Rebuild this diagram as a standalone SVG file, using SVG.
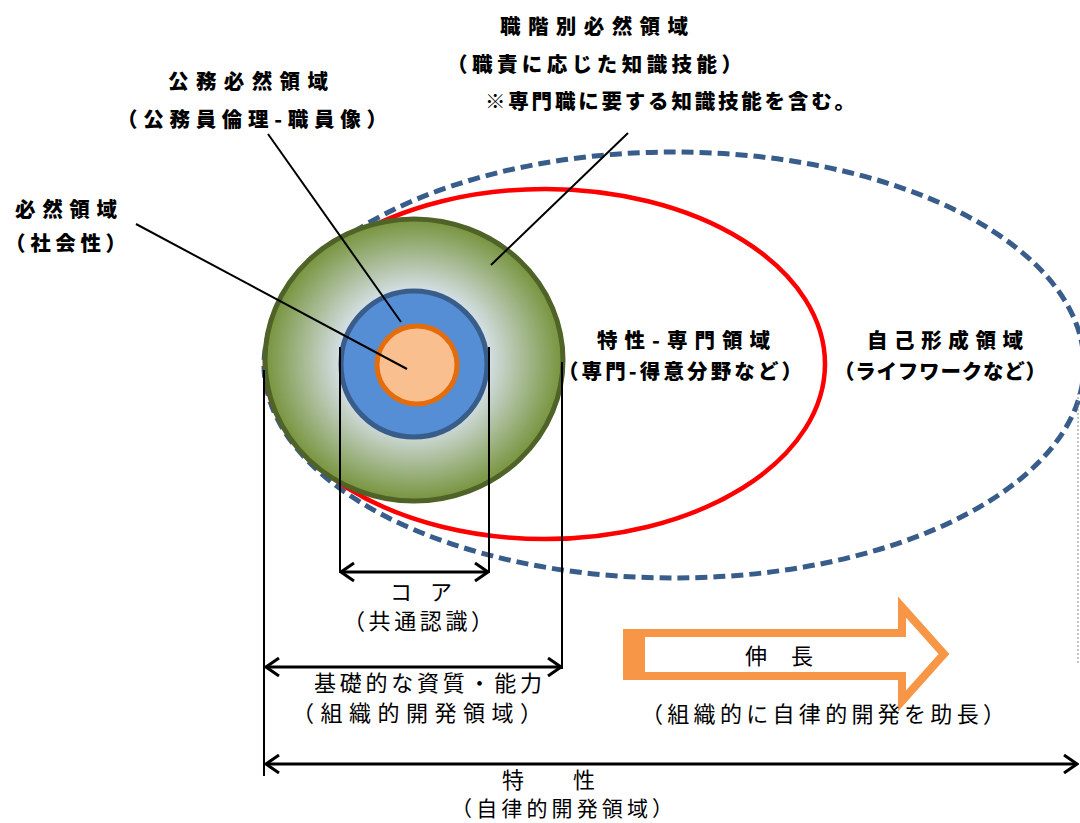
<svg xmlns="http://www.w3.org/2000/svg" width="1080" height="823" viewBox="0 0 1080 823">
<style>
.b{font-family:"Noto Sans CJK JP","Noto Sans CJK SC",sans-serif;font-weight:900;font-size:20.5px;fill:#000}
.r{font-family:"Noto Sans CJK JP","Noto Sans CJK SC",sans-serif;font-weight:normal;font-size:22px;fill:#000}
.ln{stroke:#000;stroke-width:2;fill:none}
.dim{stroke:#000;stroke-width:3;fill:none;marker-start:url(#ah);marker-end:url(#ah)}
</style>
<defs>
<radialGradient id="gg" cx="0.5" cy="0.5" r="0.5">
<stop offset="0.45" stop-color="#DCE6F4"/>
<stop offset="1" stop-color="#77933C"/>
</radialGradient>
<marker id="ah" viewBox="0 0 16 20" refX="14" refY="10" markerWidth="16" markerHeight="20" markerUnits="userSpaceOnUse" orient="auto-start-reverse">
<path d="M1,1 L14,10 L1,19" fill="none" stroke="#000" stroke-width="3"/>
</marker>
</defs>
<rect width="1080" height="823" fill="#fff"/>

<g id="self-formation">
<ellipse cx="674" cy="365" rx="410" ry="213" fill="none" stroke="#385D8A" stroke-width="5" stroke-dasharray="12 6"/>
</g>
<g id="specialty">
<ellipse cx="545" cy="364" rx="280" ry="175" fill="none" stroke="#FF0000" stroke-width="4.5"/>
</g>
<g id="rank-area">
<ellipse cx="414" cy="360" rx="149" ry="141" fill="url(#gg)" stroke="#4F6228" stroke-width="5"/>
</g>
<g id="public-area">
<circle cx="414" cy="364" r="73" fill="#558ED5" stroke="#385D8A" stroke-width="5"/>
</g>
<g id="core-area">
<ellipse cx="417" cy="365" rx="40" ry="39" fill="#F9BF8F" stroke="#E46C0A" stroke-width="5"/>
</g>

<g id="connectors">
<line class="ln" x1="136" y1="224" x2="407" y2="369"/>
<line class="ln" x1="268" y1="134" x2="401" y2="322"/>
<line class="ln" x1="628" y1="133" x2="491" y2="265"/>
<line class="ln" x1="264" y1="370" x2="264" y2="776"/>
<line class="ln" x1="340" y1="347" x2="340" y2="573"/>
<line class="ln" x1="489" y1="347" x2="489" y2="573"/>
<line class="ln" x1="562" y1="362" x2="562" y2="669"/>
<line x1="1078" y1="393" x2="1078" y2="665" stroke="#888" stroke-width="1" stroke-dasharray="2 2"/>
<line class="dim" x1="341" y1="572" x2="488" y2="572"/>
<line class="dim" x1="266" y1="667" x2="561" y2="667"/>
<line class="dim" x1="266" y1="764" x2="1077" y2="764"/>
</g>

<g id="growth-arrow">
<path d="M627,633 L902,633 L902,607 L944,654 L902,701 L902,676 L627,676 Z" fill="none" stroke="#F79646" stroke-width="8" stroke-linejoin="miter"/>
<rect x="623" y="629" width="22" height="51" fill="#F79646"/>
<text class="r" x="745" y="664" textLength="68" lengthAdjust="spacing">伸　長</text>
</g>

<g id="labels">
<text class="b" x="500" y="34" textLength="188" lengthAdjust="spacing">職階別必然領域</text>
<text class="b" x="447" y="72" textLength="295" lengthAdjust="spacing">（職責に応じた知識技能）</text>
<text class="b" x="485" y="109" textLength="370" lengthAdjust="spacing">※専門職に要する知識技能を含む。</text>
<text class="b" x="168" y="89" textLength="160" lengthAdjust="spacing">公務必然領域</text>
<text class="b" x="117" y="127" textLength="270" lengthAdjust="spacing">（公務員倫理-職員像）</text>
<text class="b" x="15" y="217" textLength="102" lengthAdjust="spacing">必然領域</text>
<text class="b" x="5" y="251" textLength="121" lengthAdjust="spacing">（社会性）</text>
<text class="b" x="597" y="348" textLength="173" lengthAdjust="spacing">特性-専門領域</text>
<text class="b" x="558" y="379" textLength="244" lengthAdjust="spacing">（専門-得意分野など）</text>
<text class="b" x="867" y="348" textLength="156" lengthAdjust="spacing">自己形成領域</text>
<text class="b" x="834" y="379" textLength="212" lengthAdjust="spacing">（ライフワークなど）</text>
<text class="r" x="390" y="600" textLength="62" lengthAdjust="spacing">コ　ア</text>
<text class="r" x="343" y="629" textLength="150" lengthAdjust="spacing">（共通認識）</text>
<text class="r" x="314" y="691" textLength="228" lengthAdjust="spacing">基礎的な資質・能力</text>
<text class="r" x="292" y="721" textLength="250" lengthAdjust="spacing">（組織的開発領域）</text>
<text class="r" x="641" y="722" textLength="364" lengthAdjust="spacing">（組織的に自律的開発を助長）</text>
<text class="r" x="502" y="788" textLength="93" lengthAdjust="spacing">特　性</text>
<text class="r" x="451" y="816" textLength="222" lengthAdjust="spacing" style="font-size:21px">（自律的開発領域）</text>
</g>
</svg>
